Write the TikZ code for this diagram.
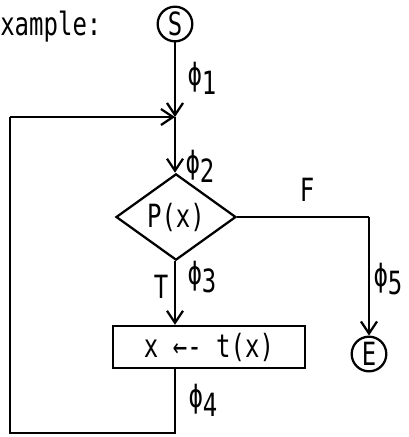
\documentclass[tikz,border=0pt]{standalone}
\usepackage{fontspec}
\setmainfont{DejaVu Sans Mono}[FakeStretch=0.75]
\usetikzlibrary{shapes.geometric,arrows.meta}
\newcommand{\phlab}[1]{ϕ\raisebox{-0.5ex}{#1}}
\tikzset{
  flow/.style={line width=1.7pt},
  arr/.style={flow,-{Straight Barb[length=9pt,width=12pt,line width=1.7pt]}},
  term/.style={circle,draw,line width=1.7pt,minimum size=26pt,inner sep=0pt},
  cond/.style={diamond,draw,line width=1.7pt,minimum width=90pt,minimum height=50pt,inner sep=0pt},
  proc/.style={rectangle,draw,line width=1.7pt,minimum width=144pt,minimum height=31.5pt,inner sep=0pt},
  lab/.style={inner sep=0pt}
}
\begin{document}
\begin{tikzpicture}[x=0.75pt,y=-0.75pt,font=\fontsize{24pt}{28pt}\selectfont]
\useasboundingbox (0,0) rectangle (409,437);
\node[lab,anchor=west] (ex) at (0,27) {xample:};
\node[term] (S) at (175,24) {S};
\coordinate (J) at (175,117);
\node[cond] (P) at (176,217) {P(x)};
\node[proc] (B) at (209,347) {x ←- t(x)};
\node[term] (E) at (369,354) {E};
\coordinate (FC) at (369,217);
\coordinate (BL) at (10,433);
\coordinate (TL) at (10,117);
\coordinate (BB) at (175,433);
% connectors
\draw[arr] (S) -- (J);
\draw[arr] (J) -- (J |- P.north);
\draw[arr] (P.south -| J) -- (J |- B.north);
\draw[flow] (P.east) -- (FC);
\draw[arr] (FC) -- (E.north);
\draw[flow] (B.south -| BB) -- (BB) -- (BL) -- (TL);
\draw[arr] (TL) -- (J);
% labels
\node[lab] (l1) at (202,78) {\phlab{1}};
\node[lab] (l2) at (200,166) {\phlab{2}};
\node[lab] (l3) at (202,277) {\phlab{3}};
\node[lab] (l4) at (203,400) {\phlab{4}};
\node[lab] (l5) at (388,279) {\phlab{5}};
\node[lab] (lT) at (161,287) {T};
\node[lab] (lF) at (307,190) {F};
\end{tikzpicture}
\end{document}
